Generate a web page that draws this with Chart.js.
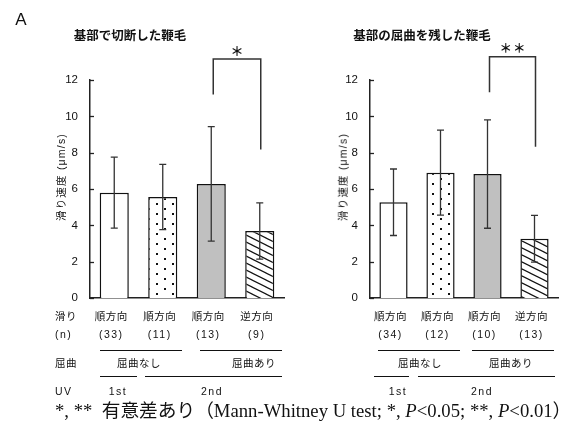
<!DOCTYPE html>
<html>
<head>
<meta charset="utf-8">
<script src="https://cdn.jsdelivr.net/npm/chart.js@4"></script>
<style>
  body { margin: 0; background: #fff; }
  #wrap { position: relative; width: 584px; height: 432px; overflow: hidden;
          font-family: "Liberation Sans", "Noto Sans CJK JP", sans-serif; color: #111; }
  canvas { position: absolute; top: 0; }
  .t { position: absolute; white-space: nowrap; line-height: 1; }
  .ln { position: absolute; height: 1.3px; background: #111; }
</style>
</head>
<body>
<div id="wrap">
  <canvas id="left" width="292" height="320" style="left:0"></canvas>
  <canvas id="right" width="292" height="320" style="left:292px"></canvas>
</div>
<script>
// data
const slideLabels = ['順方向', '順方向', '順方向', '逆方向'];
const leftMean = [5.8, 5.56, 6.28, 3.69];
const leftErr = [1.95, 1.8, 3.15, 1.55];
const leftN = [33, 11, 13, 9];
const rightMean = [5.27, 6.9, 6.82, 3.26];
const rightErr = [1.83, 2.34, 2.98, 1.29];
const rightN = [34, 12, 10, 13];
const yTicks = [0, 2, 4, 6, 8, 10, 12];
const bendGroups = ['屈曲なし', '屈曲あり'];
const uvGroups = ['1st', '2nd'];
// bracket: [from bar, to bar, top, left leg end, right leg end]
const leftBracket = [2, 3, 13.15, 11.2, 8.17];
const rightBracket = [2, 3, 13.28, 11.33, 8.33];

const wrap = document.getElementById('wrap');
function put(html, x, y, style, anchor) {
  const d = document.createElement('div');
  d.className = 't';
  d.innerHTML = html;
  d.style.cssText += 'left:' + x + 'px;top:' + y + 'px;' + (style || '');
  if (anchor === 'left') d.style.transform = 'translateY(-50%)';
  else if (anchor === 'rot') d.style.transform = 'translate(-50%,-50%) rotate(-90deg)';
  else d.style.transform = 'translate(-50%,-50%)';
  wrap.appendChild(d);
  return d;
}
function line(x1, x2, y) {
  const d = document.createElement('div');
  d.className = 'ln';
  d.style.left = x1 + 'px'; d.style.top = y + 'px'; d.style.width = (x2 - x1) + 'px';
  wrap.appendChild(d);
}

function dots(ctx) {
  const c = document.createElement('canvas'); c.width = 16; c.height = 10;
  const g = c.getContext('2d');
  g.fillStyle = '#fff'; g.fillRect(0, 0, 16, 10);
  g.fillStyle = '#111';
  g.fillRect(12, 3, 2, 2); g.fillRect(4, 8, 2, 2);
  return ctx.createPattern(c, 'repeat');
}
function hatch(ctx) {
  const w = 14, h = 7;
  const c = document.createElement('canvas'); c.width = w; c.height = h;
  const g = c.getContext('2d');
  g.fillStyle = '#fff'; g.fillRect(0, 0, w, h);
  g.strokeStyle = '#111'; g.lineWidth = 1.2;
  for (const dy of [-h, 0, h]) {
    g.beginPath(); g.moveTo(-1, dy - 0.5); g.lineTo(w + 1, dy + h + 0.5); g.stroke();
  }
  return ctx.createPattern(c, 'repeat');
}

const extras = {
  id: 'extras',
  afterDatasetsDraw(chart, args, o) {
    const { ctx, chartArea, scales: { x, y } } = chart;
    ctx.save();
    ctx.strokeStyle = '#333';
    ctx.lineWidth = 1.3;
    o.mean.forEach((m, i) => {
      const px = x.getPixelForValue(i);
      const hi = y.getPixelForValue(m + o.err[i]);
      const lo = y.getPixelForValue(m - o.err[i]);
      ctx.beginPath();
      ctx.moveTo(px, hi); ctx.lineTo(px, lo);
      ctx.moveTo(px - 3.5, hi); ctx.lineTo(px + 3.5, hi);
      ctx.moveTo(px - 3.5, lo); ctx.lineTo(px + 3.5, lo);
      ctx.stroke();
    });
    // inward tick marks
    ctx.strokeStyle = '#222';
    yTicks.forEach(v => {
      const py = Math.round(y.getPixelForValue(v)) + 0.5;
      ctx.beginPath(); ctx.moveTo(chartArea.left, py); ctx.lineTo(chartArea.left + 4, py); ctx.stroke();
    });
    // significance bracket
    const b = o.bracket;
    const xa = x.getPixelForValue(b[0]) + 2, xb = x.getPixelForValue(b[1]) + 1;
    ctx.strokeStyle = '#333';
    ctx.lineWidth = 1.5;
    ctx.beginPath();
    ctx.moveTo(xa, y.getPixelForValue(b[3]));
    ctx.lineTo(xa, y.getPixelForValue(b[2]));
    ctx.lineTo(xb, y.getPixelForValue(b[2]));
    ctx.lineTo(xb, y.getPixelForValue(b[4]));
    ctx.stroke();
    ctx.restore();
  }
};

function makeChart(id, mean, err, bracket, padRight, axisW) {
  const cv = document.getElementById(id);
  const ctx = cv.getContext('2d');
  return new Chart(ctx, {
    type: 'bar',
    data: {
      labels: slideLabels,
      datasets: [{
        data: mean,
        backgroundColor: ['#fff', dots(ctx), '#c0c0c0', hatch(ctx)],
        borderColor: '#111',
        borderWidth: 1.5,
        categoryPercentage: 1,
        barPercentage: 0.6
      }]
    },
    options: {
      responsive: false,
      animation: false,
      devicePixelRatio: 1,
      layout: { padding: { top: 80, right: padRight, bottom: 22, left: 0 } },
      plugins: {
        legend: { display: false },
        tooltip: { enabled: false },
        extras: { mean: mean, err: err, bracket: bracket }
      },
      scales: {
        x: {
          grid: { display: false },
          ticks: { display: false },
          border: { color: '#222', width: 1.5 },
          afterFit(s) { s.height = 0; }
        },
        y: {
          min: 0, max: 12,
          afterBuildTicks(s) { s.ticks = yTicks.map(v => ({ value: v })); },
          ticks: { font: { size: 11.5, family: 'Liberation Sans' }, color: '#111', padding: 4 },
          grid: { display: false },
          border: { color: '#222', width: 1.5 },
          afterFit(s) { s.width = axisW; }
        }
      }
    },
    plugins: [extras]
  });
}

const cL = makeChart('left', leftMean, leftErr, leftBracket, 8, 90);
const cR = makeChart('right', rightMean, rightErr, rightBracket, 26, 78);

// headings
put('A', 21, 19, 'font-size:17px;');
put('基部で切断した鞭毛', 130, 36, 'font-size:12.5px;font-weight:bold;');
put('基部の屈曲を残した鞭毛', 422, 36, 'font-size:12.5px;font-weight:bold;');
put('＊', 237, 51, 'font-size:13px;font-weight:bold;');
put('＊＊', 513, 49, 'font-size:12.5px;font-weight:bold;letter-spacing:1px;');
const yTitle = 'font-size:10.5px;letter-spacing:1.2px;';
put('滑り速度 (μm/s)', 61, 177, yTitle, 'rot');
put('滑り速度 (μm/s)', 343, 177, yTitle, 'rot');

// row labels under the axes
const cjk = 'font-size:10.5px;letter-spacing:0.5px;';
const lat = 'font-size:10.5px;letter-spacing:1.5px;';
put('滑り', 55, 316, cjk, 'left');
put('(n)', 55, 334, lat, 'left');
put('屈曲', 55, 363, cjk, 'left');
put('UV', 55, 391, lat, 'left');

[[cL, 0, leftN], [cR, 292, rightN]].forEach(([c, off, ns]) => {
  slideLabels.forEach((s, i) => {
    const px = c.scales.x.getPixelForValue(i) + off - 3;
    put(s, px, 316, cjk);
    put('(' + ns[i] + ')', px, 334, lat);
  });
});

line(100, 182, 350); line(200, 282, 350);
line(378, 460, 350); line(472, 554, 350);
put(bendGroups[0], 139, 363, cjk); put(bendGroups[1], 254, 363, cjk);
put(bendGroups[0], 420, 363, cjk); put(bendGroups[1], 511, 363, cjk);
line(100, 137, 375.5); line(145, 282, 375.5);
line(374, 409, 375.5); line(418, 555, 375.5);
put(uvGroups[0], 118, 391, lat); put(uvGroups[1], 212, 391, lat);
put(uvGroups[0], 398, 391, lat); put(uvGroups[1], 482, 391, lat);

put('*, **&nbsp; 有意差あり（Mann-Whitney U test; *, <i>P</i>&lt;0.05; **, <i>P</i>&lt;0.01）', 55, 411,
    'font-family:"Liberation Serif","Noto Sans CJK JP",serif;font-size:18.7px;', 'left');
</script>
</body>
</html>
